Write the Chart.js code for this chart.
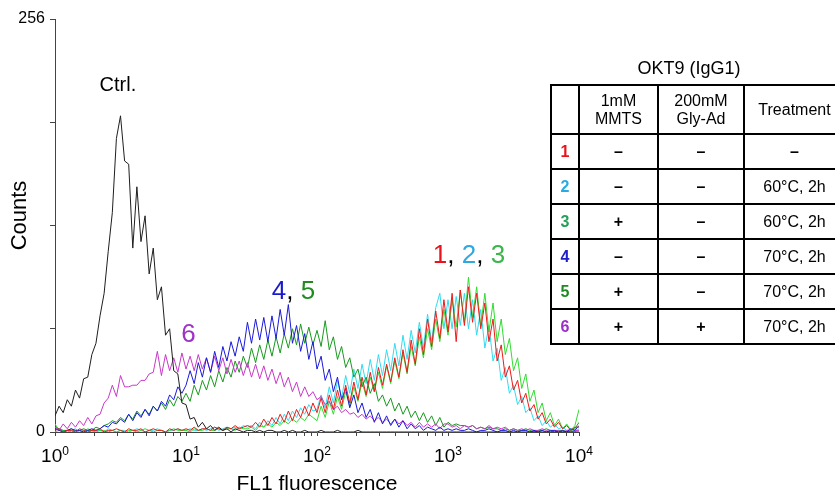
<!DOCTYPE html>
<html>
<head>
<meta charset="utf-8">
<title>OKT9 (IgG1) - FL1 histogram</title>
<script src="https://cdn.jsdelivr.net/npm/chart.js@4.4.1/dist/chart.umd.min.js"></script>
<style>
  html, body { margin: 0; padding: 0; background: #fff; overflow: hidden; }
  #wrap { position: relative; width: 835px; height: 495px; overflow: hidden; font-family: "Liberation Sans", Arial, sans-serif; color: #000; }
  #histo { position: absolute; left: 0; top: 0; }
  #tableTitle { position: absolute; left: 589px; top: 57px; width: 200px; text-align: center; font-size: 18px; line-height: 22px; }
  #cond { position: absolute; left: 550px; top: 84px; width: 294px; border-collapse: collapse; table-layout: fixed; font-size: 16px; }
  #cond th, #cond td { border: 2px solid #000; text-align: center; vertical-align: middle; padding: 0; font-weight: normal; }
  #cond th { height: 47px; line-height: 18px; }
  #cond td { height: 33px; }
  #cond .bold { font-weight: bold; }
</style>
</head>
<body>
<div id="wrap">
  <canvas id="histo" width="835" height="495"></canvas>
  <div id="tableTitle">OKT9 (IgG1)</div>
  <table id="cond">
    <colgroup><col style="width:28px"><col style="width:79px"><col style="width:86px"><col style="width:101px"></colgroup>
    <thead><tr id="condHead"></tr></thead>
    <tbody id="condBody"></tbody>
  </table>
</div>

<script>
// DATA ##############################################################################

// FL1 channel (1024-channel log scale, 256 channels per decade)
var channels = [
  0, 8, 16, 24, 32, 40, 48, 56, 64, 72, 80, 88, 96, 104, 112, 120,
  128, 136, 144, 152, 160, 168, 176, 184, 192, 200, 208, 216, 224, 232, 240, 248,
  256, 264, 272, 280, 288, 296, 304, 312, 320, 328, 336, 344, 352, 360, 368, 376,
  384, 392, 400, 408, 416, 424, 432, 440, 448, 456, 464, 472, 480, 488, 496, 504,
  512, 520, 528, 536, 544, 552, 560, 568, 576, 584, 592, 600, 608, 616, 624, 632,
  640, 648, 656, 664, 672, 680, 688, 696, 704, 712, 720, 728, 736, 744, 752, 760,
  768, 776, 784, 792, 800, 808, 816, 824, 832, 840, 848, 856, 864, 872, 880, 888,
  896, 904, 912, 920, 928, 936, 944, 952, 960, 968, 976, 984, 992, 1000, 1008, 1016,
  1024
];

var countsCtrl = [
  10, 16, 12, 20, 16, 26, 21, 33, 34, 48, 55, 72, 86, 112, 136, 182,
  196, 168, 166, 114, 152, 118, 134, 98, 114, 82, 90, 60, 64, 38, 36, 18,
  17, 8, 9, 3, 6, 2, 4, 1, 3, 1, 2, 0, 2, 1, 0, 1,
  1, 0, 1, 0, 1, 1, 0, 0, 1, 0, 1, 0, 0, 1, 0, 0,
  0, 1, 0, 0, 0, 1, 0, 0, 0, 0, 1, 0, 0, 0, 0, 0,
  0, 0, 0, 0, 0, 0, 0, 0, 0, 0, 0, 0, 0, 0, 0, 0,
  0, 0, 0, 0, 0, 0, 0, 0, 0, 0, 0, 0, 0, 0, 0, 0,
  0, 0, 0, 0, 0, 0, 0, 0, 0, 0, 0, 0, 0, 0, 0, 0,
  0
];

var counts1 = [
  1, 2, 0, 1, 1, 0, 2, 1, 0, 1, 1, 2, 0, 1, 1, 2,
  1, 0, 2, 1, 1, 2, 0, 1, 2, 1, 1, 0, 2, 1, 2, 1,
  2, 1, 3, 1, 2, 2, 1, 3, 2, 1, 3, 2, 4, 2, 3, 4,
  3, 6, 3, 8, 4, 9, 5, 11, 6, 13, 7, 14, 9, 16, 10, 18,
  12, 21, 12, 23, 14, 26, 16, 29, 18, 31, 20, 34, 23, 37, 25, 40,
  29, 42, 31, 46, 34, 51, 37, 57, 42, 64, 48, 70, 53, 75, 58, 82,
  62, 86, 56, 88, 66, 90, 68, 86, 64, 80, 56, 70, 44, 54, 34, 41,
  26, 32, 18, 24, 13, 17, 8, 12, 5, 8, 3, 6, 2, 4, 1, 3,
  3
];

var counts2 = [
  0, 1, 1, 0, 1, 2, 0, 1, 1, 0, 1, 1, 0, 2, 1, 0,
  1, 1, 0, 1, 2, 1, 0, 1, 1, 2, 1, 0, 1, 1, 2, 1,
  1, 2, 1, 1, 2, 1, 2, 3, 1, 2, 3, 2, 3, 2, 4, 3,
  4, 2, 6, 3, 7, 4, 9, 5, 11, 7, 13, 9, 15, 11, 17, 13,
  14, 23, 15, 28, 18, 32, 21, 35, 24, 39, 27, 42, 30, 45, 32, 48,
  35, 51, 38, 55, 41, 60, 45, 63, 49, 68, 52, 73, 56, 77, 86, 64,
  82, 64, 84, 66, 86, 64, 82, 60, 76, 52, 66, 44, 52, 32, 40, 24,
  29, 17, 22, 12, 15, 7, 10, 4, 7, 3, 5, 2, 3, 1, 2, 0,
  2
];

var counts3 = [
  5, 1, 0, 1, 0, 1, 1, 0, 2, 1, 0, 1, 1, 0, 1, 0,
  1, 0, 1, 1, 0, 1, 2, 1, 0, 1, 1, 0, 1, 2, 1, 1,
  1, 0, 2, 1, 1, 2, 1, 1, 2, 1, 2, 2, 1, 3, 2, 2,
  3, 1, 4, 3, 5, 3, 6, 4, 7, 5, 8, 6, 9, 7, 11, 9,
  7, 16, 9, 19, 11, 22, 14, 25, 16, 28, 19, 31, 22, 34, 25, 37,
  27, 41, 30, 44, 33, 49, 36, 53, 41, 59, 46, 64, 51, 70, 56, 76,
  60, 82, 65, 88, 68, 96, 71, 90, 66, 86, 62, 80, 56, 70, 48, 58,
  38, 46, 27, 36, 19, 26, 12, 18, 7, 12, 4, 8, 2, 5, 1, 4,
  14
];

var counts4 = [
  2, 1, 0, 1, 2, 1, 1, 0, 1, 2, 1, 2, 4, 3, 6, 5,
  8, 6, 11, 7, 12, 9, 14, 10, 16, 13, 19, 16, 23, 20, 28, 24,
  29, 38, 30, 43, 34, 46, 37, 50, 40, 53, 44, 56, 47, 59, 50, 68,
  55, 70, 57, 71, 56, 72, 58, 76, 60, 79, 55, 66, 50, 61, 45, 56,
  39, 47, 32, 39, 25, 34, 20, 27, 15, 23, 12, 18, 9, 14, 6, 12,
  5, 10, 4, 8, 3, 7, 2, 5, 2, 4, 1, 3, 2, 1, 3, 1,
  2, 1, 2, 1, 1, 2, 1, 0, 1, 1, 2, 1, 0, 1, 1, 0,
  1, 0, 1, 1, 0, 1, 0, 1, 0, 1, 1, 0, 1, 0, 2, 1,
  4
];

var counts5 = [
  3, 2, 1, 1, 2, 0, 1, 2, 1, 1, 3, 2, 4, 5, 7, 6,
  9, 7, 11, 8, 13, 10, 14, 11, 16, 13, 18, 14, 20, 16, 22, 19,
  24, 19, 29, 23, 32, 26, 35, 28, 38, 31, 40, 34, 44, 37, 47, 40,
  52, 43, 54, 45, 57, 47, 59, 49, 61, 52, 64, 54, 67, 55, 65, 54,
  63, 53, 69, 51, 59, 45, 53, 40, 46, 34, 39, 28, 34, 24, 30, 19,
  23, 16, 21, 13, 18, 11, 16, 9, 13, 7, 12, 6, 10, 4, 9, 3,
  6, 4, 5, 4, 4, 3, 4, 2, 3, 2, 3, 2, 2, 1, 2, 1,
  2, 1, 1, 2, 1, 0, 1, 1, 2, 1, 0, 1, 1, 0, 1, 2,
  6
];

var counts6 = [
  3, 1, 5, 2, 6, 3, 7, 4, 9, 5, 10, 11, 18, 21, 29, 22,
  35, 28, 28, 29, 29, 32, 32, 36, 37, 50, 35, 48, 38, 46, 37, 49,
  39, 47, 38, 48, 39, 46, 37, 47, 38, 46, 36, 45, 37, 44, 35, 43,
  34, 42, 33, 41, 32, 39, 30, 37, 28, 34, 25, 31, 22, 28, 22, 25,
  20, 22, 17, 19, 14, 16, 12, 14, 11, 12, 9, 11, 8, 10, 7, 9,
  6, 8, 5, 8, 5, 7, 4, 6, 3, 6, 3, 5, 3, 5, 2, 5,
  5, 3, 4, 2, 4, 3, 4, 2, 3, 2, 4, 2, 3, 2, 3, 1,
  2, 1, 2, 1, 2, 1, 1, 2, 1, 0, 1, 1, 0, 1, 0, 1,
  1
];

// decade tick labels (10^k) and the count ticks
var decadeExponents = ['0', '1', '2', '3', '4'];
var countTicks = [0, 64, 128, 192, 256];

// condition table
var rowIds = ['1', '2', '3', '4', '5', '6'];
var mmts = ['–', '–', '+', '–', '+', '+'];
var glyAd = ['–', '–', '–', '–', '–', '+'];
var treatment = ['–', '60°C, 2h', '60°C, 2h', '70°C, 2h', '70°C, 2h', '70°C, 2h'];

// STYLES ############################################################################

var FONT = '"Liberation Sans", Arial, sans-serif';
var lineColors = {
  ctrl: '#1e1e1e', s1: '#f01818', s2: '#30dcf0', s3: '#30dc30',
  s4: '#1a1ad8', s5: '#18991e', s6: '#c838c8'
};
var idColors = ['#e8131b', '#29abe2', '#23a05a', '#2020c8', '#1f8a22', '#9a2fcc'];

// curve annotations, anchored in data space (channel, count)
var notes = [
  { ch: 123, count: 215, size: 20, parts: [['Ctrl.', '#000']] },
  { ch: 261, count: 60, size: 26, parts: [['6', '#a030c8']] },
  { ch: 466, count: 87, size: 26, parts: [['4', '#1a1acc'], [', ', '#000'], ['5', '#1e8c1e']] },
  { ch: 809, count: 109, size: 26, parts: [['1', '#e8131b'], [', ', '#000'], ['2', '#2ea8e0'], [', ', '#000'], ['3', '#3cb54a']] }
];

// TABLE #############################################################################

document.addEventListener('DOMContentLoaded', function() {
    var head = document.getElementById('condHead');
    ['', '1mM<br>MMTS', '200mM<br>Gly-Ad', 'Treatment'].forEach(function(h) {
        var th = document.createElement('th');
        th.innerHTML = h;
        head.appendChild(th);
    });

    var body = document.getElementById('condBody');
    rowIds.forEach(function(id, i) {
        var tr = document.createElement('tr');
        var cells = [id, mmts[i], glyAd[i], treatment[i]];
        cells.forEach(function(text, j) {
            var td = document.createElement('td');
            td.textContent = text;
            if (j < 3 || text === '–') td.className = 'bold';
            if (j === 0) td.style.color = idColors[i];
            tr.appendChild(td);
        });
        body.appendChild(tr);
    });
});

// CHART #############################################################################

document.addEventListener('DOMContentLoaded', function() {
    var ctx = document.getElementById('histo').getContext('2d');

    function toPoints(values) {
        return channels.map(function(c, i) { return { x: c, y: values[i] }; });
    }

    function dataset(label, values, color, order) {
        return {
            label: label,
            data: toPoints(values),
            borderColor: color,
            borderWidth: 1,
            pointRadius: 0,
            fill: false,
            tension: 0,
            order: order
        };
    }

    var textPlugin = {
        id: 'histoText',
        afterDraw: function(chart) {
            var c = chart.ctx;
            var xs = chart.scales.x;
            var ys = chart.scales.y;
            var area = chart.chartArea;
            c.save();
            c.fillStyle = '#000';

            // decade labels 10^k
            decadeExponents.forEach(function(e, k) {
                var px = xs.getPixelForValue(256 * k);
                c.font = '19px ' + FONT;
                var wBase = c.measureText('10').width;
                c.font = '12px ' + FONT;
                var wExp = c.measureText(e).width;
                var left = px - (wBase + wExp) / 2;
                c.textBaseline = 'alphabetic';
                c.textAlign = 'left';
                c.font = '19px ' + FONT;
                c.fillText('10', left, area.bottom + 30);
                c.font = '12px ' + FONT;
                c.fillText(e, left + wBase, area.bottom + 23);
            });

            // y axis title
            c.save();
            c.translate(20, (area.top + area.bottom) / 2 - 10);
            c.rotate(-Math.PI / 2);
            c.textAlign = 'center';
            c.textBaseline = 'middle';
            c.font = '22px ' + FONT;
            c.fillText('Counts', 0, 0);
            c.restore();

            // annotations
            notes.forEach(function(n) {
                c.font = n.size + 'px ' + FONT;
                c.textBaseline = 'middle';
                c.textAlign = 'left';
                var total = 0;
                n.parts.forEach(function(p) { total += c.measureText(p[0]).width; });
                var x = xs.getPixelForValue(n.ch) - total / 2;
                var y = ys.getPixelForValue(n.count);
                n.parts.forEach(function(p) {
                    c.fillStyle = p[1];
                    c.fillText(p[0], x, y);
                    x += c.measureText(p[0]).width;
                });
            });
            c.restore();
        }
    };

    new Chart(ctx, {
        type: 'line',
        data: {
            datasets: [
                dataset('Ctrl.', countsCtrl, lineColors.ctrl, 0),
                dataset('1', counts1, lineColors.s1, 1),
                dataset('4', counts4, lineColors.s4, 2),
                dataset('6', counts6, lineColors.s6, 3),
                dataset('5', counts5, lineColors.s5, 4),
                dataset('3', counts3, lineColors.s3, 5),
                dataset('2', counts2, lineColors.s2, 6)
            ]
        },
        options: {
            responsive: false,
            animation: false,
            layout: { padding: { top: 19, right: 256, left: 0, bottom: 0 } },
            plugins: {
                legend: { display: false },
                tooltip: { enabled: false }
            },
            scales: {
                x: {
                    type: 'linear',
                    min: 0,
                    max: 1024,
                    afterBuildTicks: function(scale) {
                        var t = [];
                        for (var d = 0; d < 4; d++) {
                            for (var m = 1; m < 10; m++) t.push({ value: 256 * (d + Math.log10(m)) });
                        }
                        t.push({ value: 1024 });
                        scale.ticks = t;
                    },
                    afterFit: function(scale) { scale.height = 63; },
                    ticks: { display: false },
                    grid: { drawOnChartArea: false, tickLength: 4, color: '#444' },
                    border: { color: '#444', width: 1 },
                    title: {
                        display: true,
                        text: 'FL1 fluorescence',
                        color: '#000',
                        font: { family: FONT, size: 21, lineHeight: 1 },
                        padding: 0
                    }
                },
                y: {
                    min: 0,
                    max: 256,
                    afterBuildTicks: function(scale) {
                        scale.ticks = countTicks.map(function(v) { return { value: v }; });
                    },
                    afterFit: function(scale) { scale.width = 55; },
                    ticks: {
                        color: '#000',
                        padding: 5,
                        font: { family: FONT, size: 16 },
                        callback: function(v) { return (v === 0 || v === 256) ? String(v) : ''; }
                    },
                    grid: { drawOnChartArea: false, tickLength: 5, color: '#444' },
                    border: { color: '#444', width: 1 }
                }
            }
        },
        plugins: [textPlugin]
    });
});
</script>
</body>
</html>
